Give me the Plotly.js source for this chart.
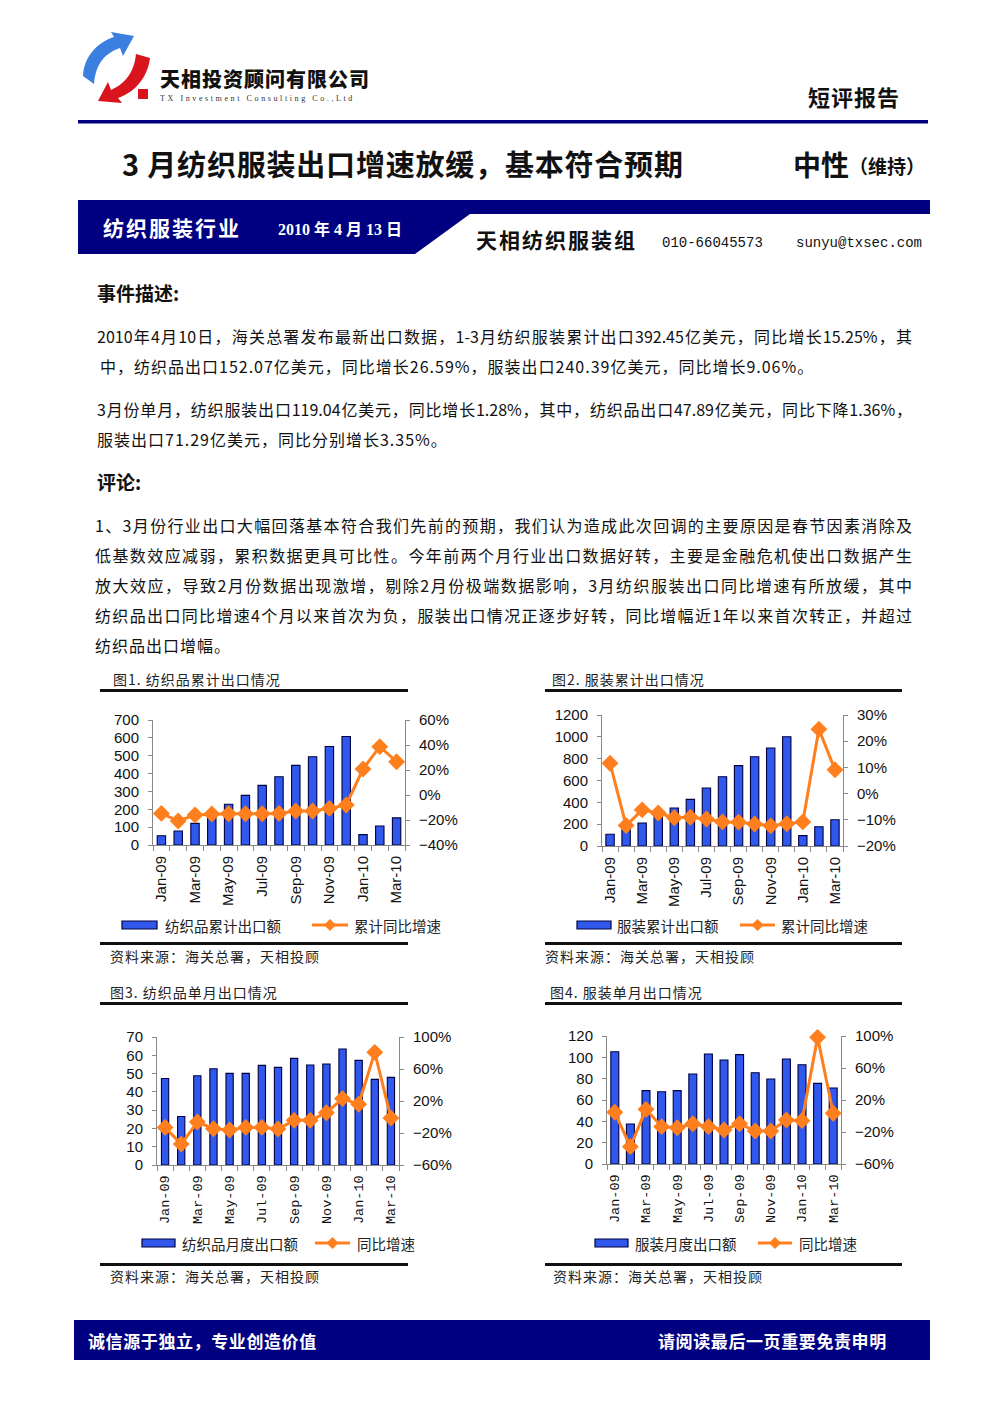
<!DOCTYPE html>
<html><head><meta charset="utf-8">
<script src="https://cdn.plot.ly/plotly-3.0.1.min.js"></script>
<style>
body{margin:0;width:992px;height:1403px;position:relative;background:#fff;font-family:"Noto Sans CJK SC","Noto Sans",sans-serif;overflow:hidden;color:#111}
.a{position:absolute;white-space:nowrap;line-height:1}
.j{position:absolute;line-height:1;text-align:justify;text-align-last:justify;font-size:16px;color:#111}
.l{position:absolute;line-height:1;white-space:nowrap;font-size:16px;color:#111;letter-spacing:1px}
.rule{position:absolute;background:#111;height:3px}
.cap{position:absolute;white-space:nowrap;line-height:1;font-size:14px;letter-spacing:1px;color:#222}
.chart{position:absolute}
</style></head><body>

<svg class="a" style="left:0;top:0" width="992" height="1403">
  <!-- logo -->
  <path d="M83,76 C84,56 98,42 114,37 L111,32 L134,36 L123,56 L120,48 C106,53 96,62 94,84 Z" fill="#3b7fe0"/>
  <path d="M150,58 C148,76 136,92 118,98 L122,103 L98,101 L108,82 L111,90 C124,84 134,74 136,54 Z" fill="#d8141c"/>
  <rect x="138" y="89" width="10" height="10" fill="#d8141c"/>
  <rect x="78" y="120" width="850" height="3.5" fill="#000080"/>
  <polygon points="78,200 930,200 930,214 470,214 415,254 78,254" fill="#000080"/>
  <rect x="74" y="1320" width="856" height="40" fill="#000080"/>
</svg>

<div class="a" style="left:160px;top:69px;font-size:20px;font-weight:900;letter-spacing:1px">天相投资顾问有限公司</div>
<div class="a" style="left:160px;top:95px;font-size:8px;letter-spacing:2.6px;font-family:'Liberation Serif',serif;color:#333">TX Investment Consulting Co.,Ltd</div>
<div class="a" style="left:808px;top:85px;font-size:22px;font-weight:700;letter-spacing:1px">短评报告</div>

<div class="a" style="left:122px;top:149px;font-size:29px;font-weight:700;letter-spacing:0.8px">3 月纺织服装出口增速放缓，基本符合预期</div>
<div class="a" style="left:793px;top:150px;font-size:28px;font-weight:700">中性<span style="font-size:19px;vertical-align:2px">（维持）</span></div>

<div class="a" style="left:103px;top:217px;font-size:21px;font-weight:700;letter-spacing:2px;color:#fff">纺织服装行业</div>
<div class="a" style="left:278px;top:222px;font-size:16px;font-weight:700;color:#fff;font-family:'Liberation Serif','Noto Sans CJK SC',serif">2010 年 4 月 13 日</div>
<div class="a" style="left:476px;top:229px;font-size:21px;font-weight:700;letter-spacing:2px">天相纺织服装组</div>
<div class="a" style="left:662px;top:236px;font-size:14px;font-family:'Liberation Mono',monospace">010-66045573</div>
<div class="a" style="left:796px;top:236px;font-size:14px;font-family:'Liberation Mono',monospace">sunyu@txsec.com</div>

<div class="a" style="left:97px;top:283px;font-size:19px;font-weight:700">事件描述:</div>
<div class="j" style="left:97px;top:328px;width:815px">2010年4月10日，海关总署发布最新出口数据，1-3月纺织服装累计出口392.45亿美元，同比增长15.25%，其</div>
<div class="l" style="left:100px;top:358px">中，纺织品出口152.07亿美元，同比增长26.59%，服装出口240.39亿美元，同比增长9.06%。</div>
<div class="j" style="left:97px;top:401px;width:815px">3月份单月，纺织服装出口119.04亿美元，同比增长1.28%，其中，纺织品出口47.89亿美元，同比下降1.36%，</div>
<div class="l" style="left:97px;top:431px">服装出口71.29亿美元，同比分别增长3.35%。</div>

<div class="a" style="left:97px;top:472px;font-size:19px;font-weight:700">评论:</div>
<div class="j" style="left:95px;top:517px;width:817px">1、3月份行业出口大幅回落基本符合我们先前的预期，我们认为造成此次回调的主要原因是春节因素消除及</div>
<div class="j" style="left:95px;top:547px;width:817px">低基数效应减弱，累积数据更具可比性。今年前两个月行业出口数据好转，主要是金融危机使出口数据产生</div>
<div class="j" style="left:95px;top:577px;width:817px">放大效应，导致2月份数据出现激增，剔除2月份极端数据影响，3月纺织服装出口同比增速有所放缓，其中</div>
<div class="j" style="left:95px;top:607px;width:817px">纺织品出口同比增速4个月以来首次为负，服装出口情况正逐步好转，同比增幅近1年以来首次转正，并超过</div>
<div class="l" style="left:95px;top:637px">纺织品出口增幅。</div>

<div class="cap" style="left:113px;top:672px">图1. 纺织品累计出口情况</div>
<div class="rule" style="left:100px;top:689px;width:308px"></div>
<div class="cap" style="left:552px;top:672px">图2. 服装累计出口情况</div>
<div class="rule" style="left:545px;top:689px;width:357px"></div>
<div class="rule" style="left:100px;top:942px;width:308px"></div>
<div class="cap" style="left:110px;top:949px">资料来源：海关总署，天相投顾</div>
<div class="rule" style="left:545px;top:942px;width:357px"></div>
<div class="cap" style="left:545px;top:949px">资料来源：海关总署，天相投顾</div>

<div class="cap" style="left:110px;top:985px">图3. 纺织品单月出口情况</div>
<div class="rule" style="left:100px;top:1002px;width:308px"></div>
<div class="cap" style="left:550px;top:985px">图4. 服装单月出口情况</div>
<div class="rule" style="left:545px;top:1002px;width:357px"></div>
<div class="rule" style="left:100px;top:1263px;width:308px"></div>
<div class="cap" style="left:110px;top:1269px">资料来源：海关总署，天相投顾</div>
<div class="rule" style="left:545px;top:1263px;width:357px"></div>
<div class="cap" style="left:553px;top:1269px">资料来源：海关总署，天相投顾</div>

<div class="a" style="left:88px;top:1332px;font-size:17px;font-weight:700;color:#fff;letter-spacing:0.6px">诚信源于独立，专业创造价值</div>
<div class="a" style="left:658px;top:1332px;font-size:17px;font-weight:700;color:#fff;letter-spacing:0.6px">请阅读最后一页重要免责申明</div>

<div id="c1" class="chart"></div>
<div id="c2" class="chart"></div>
<div id="c3" class="chart"></div>
<div id="c4" class="chart"></div>

<script>
// ---- data ----
const months = ['Jan-09','Feb-09','Mar-09','Apr-09','May-09','Jun-09','Jul-09','Aug-09','Sep-09','Oct-09','Nov-09','Dec-09','Jan-10','Feb-10','Mar-10'];
const tickLabels = ['Jan-09','','Mar-09','','May-09','','Jul-09','','Sep-09','','Nov-09','','Jan-10','','Mar-10'];

const textileCum = [52,78,121,175,228,278,334,382,446,494,552,608,58,106,152];
const textileCumYoY = [-14.7,-20.8,-16,-15.2,-15,-15,-15,-14.7,-12.8,-12.8,-10.7,-8,20.8,38.7,26.6];
const apparelCum = [107,150,211,280,348,427,531,635,736,818,898,1001,95,177,240];
const apparelCumYoY = [11.6,-12.2,-6.2,-7.4,-9.2,-9.0,-9.7,-10.8,-10.9,-11.6,-12.3,-11.5,-10.8,24.6,9.1];
const textileMon = [47.3,26.5,48.8,52.6,50.1,50.1,54.5,53.4,58.3,54.7,55.2,63.4,57.2,46.8,47.9];
const textileMonYoY = [-13,-33.9,-6.3,-14.6,-16.3,-13,-13,-15,-4.2,-4.2,5.4,23,15.9,80.8,-1.4];
const apparelMon = [105.3,37.5,68.8,67.8,68.8,84.4,103.1,97.5,102.5,85.6,79.7,98.4,93.1,75.6,71.3];
const apparelMonYoY = [4.6,-38.3,8.3,-13.3,-14.6,-9.6,-13.3,-17.5,-9.6,-18.8,-18.8,-5,-5.8,98.3,3.4];

const names1 = ['纺织品累计出口额','累计同比增速'];
const names2 = ['服装累计出口额','累计同比增速'];
const names3 = ['纺织品月度出口额','同比增速'];
const names4 = ['服装月度出口额','同比增速'];

const BAR = '#3158ec', BAROUT = '#000040', LINE = '#ff7f1e';

const charts = [
  {id:'c1', bars:textileCum, line:textileCumYoY, names:names1, x0:153,x1:405,y0:720,y1:845,
   yr:[0,700], yd:100, y2r:[-40,60], y2d:20, gap:0.5, xfont:"'Liberation Sans',Arial,sans-serif", xsize:15,
   leg:{y:925, r0:122, r1:157, t1:163, l0:312, l1:348, t2:352}},
  {id:'c2', bars:apparelCum, line:apparelCumYoY, names:names2, x0:602,x1:843,y0:715,y1:846,
   yr:[0,1200], yd:200, y2r:[-20,30], y2d:10, gap:0.48, xfont:"'Liberation Sans',Arial,sans-serif", xsize:15,
   leg:{y:925, r0:577, r1:611, t1:615, l0:740, l1:775, t2:779}},
  {id:'c3', bars:textileMon, line:textileMonYoY, names:names3, x0:157,x1:399,y0:1037,y1:1165,
   yr:[0,70], yd:10, y2r:[-60,100], y2d:40, gap:0.55, xfont:"'Liberation Mono',monospace", xsize:13.5,
   leg:{y:1243, r0:142, r1:175, t1:180, l0:315, l1:350, t2:355}},
  {id:'c4', bars:apparelMon, line:apparelMonYoY, names:names4, x0:607,x1:841,y0:1036,y1:1164,
   yr:[0,120], yd:20, y2r:[-60,100], y2d:40, gap:0.49, xfont:"'Liberation Mono',monospace", xsize:13.5,
   leg:{y:1243, r0:595, r1:628, t1:633, l0:758, l1:792, t2:797}}
];

charts.forEach(c => {
  const L = c.x0 - 60, T = c.y0 - 20, W = (c.x1 - c.x0) + 130, H = (c.y1 - c.y0) + 120;
  const el = document.getElementById(c.id);
  el.style.left = L + 'px'; el.style.top = T + 'px';
  el.style.width = W + 'px'; el.style.height = H + 'px';
  const pw = c.x1 - c.x0, ph = c.y1 - c.y0;
  const px = v => (v - c.x0) / pw;
  const py = v => (c.y1 - v) / ph;
  const g = c.leg;
  const shapes = [
    {type:'rect', xref:'paper', yref:'paper', x0:px(g.r0), x1:px(g.r1), y0:py(g.y+4), y1:py(g.y-4),
     fillcolor:BAR, line:{color:BAROUT, width:1.2}},
    {type:'line', xref:'paper', yref:'paper', x0:px(g.l0), x1:px(g.l1), y0:py(g.y), y1:py(g.y),
     line:{color:LINE, width:3}},
  ];
  const mx = (g.l0 + g.l1) / 2, d = 6;
  shapes.push({type:'path', xref:'paper', yref:'paper', fillcolor:LINE, line:{color:LINE, width:0},
    path:`M${px(mx-d)},${py(g.y)} L${px(mx)},${py(g.y-d)} L${px(mx+d)},${py(g.y)} L${px(mx)},${py(g.y+d)} Z`});
  const annFont = {family:"'Noto Sans CJK SC',sans-serif", size:14.5, color:'#222'};
  const annotations = [
    {xref:'paper', yref:'paper', x:px(g.t1), y:py(g.y), text:c.names[0], showarrow:false, xanchor:'left', yanchor:'middle', font:annFont},
    {xref:'paper', yref:'paper', x:px(g.t2), y:py(g.y), text:c.names[1], showarrow:false, xanchor:'left', yanchor:'middle', font:annFont}
  ];
  const traces = [
    {type:'bar', x:months, y:c.bars, name:c.names[0], marker:{color:BAR, line:{color:BAROUT, width:1.1}}, hoverinfo:'skip'},
    {type:'scatter', mode:'lines+markers', x:months, y:c.line, name:c.names[1], yaxis:'y2',
     line:{color:LINE, width:3}, marker:{symbol:'diamond', size:13, color:LINE}, hoverinfo:'skip', cliponaxis:false}
  ];
  const numFont = {family:"'Liberation Sans',Arial,sans-serif", size:15, color:'#111'};
  const layout = {
    width:W, height:H, margin:{l:60, r:70, t:20, b:100},
    paper_bgcolor:'rgba(0,0,0,0)', plot_bgcolor:'rgba(0,0,0,0)',
    showlegend:false, bargap:c.gap,
    xaxis:{type:'category', tickmode:'array', tickvals:months, ticktext:tickLabels, tickangle:-90,
      tickson:'boundaries', ticks:'outside', ticklen:5, tickcolor:'#888', showline:true, linecolor:'#888', linewidth:1,
      showgrid:false, zeroline:false, tickfont:{family:c.xfont, size:c.xsize, color:'#111'}, ticklabelstandoff:4,
      range:[-0.5, 14.5], fixedrange:true},
    yaxis:{range:c.yr, dtick:c.yd, tick0:0, showline:true, linecolor:'#888', ticks:'outside', ticklen:4, tickcolor:'#888',
      showgrid:false, zeroline:false, tickfont:numFont, ticklabelstandoff:6, fixedrange:true},
    yaxis2:{range:c.y2r, dtick:c.y2d, tick0:c.y2r[0], overlaying:'y', side:'right', showline:true, linecolor:'#888',
      ticks:'outside', ticklen:4, tickcolor:'#888', showgrid:false, zeroline:false, ticksuffix:'%',
      tickfont:numFont, ticklabelstandoff:6, fixedrange:true},
    shapes:shapes, annotations:annotations
  };
  Plotly.newPlot(el, traces, layout, {staticPlot:true, displayModeBar:false});
});
</script>
</body></html>
